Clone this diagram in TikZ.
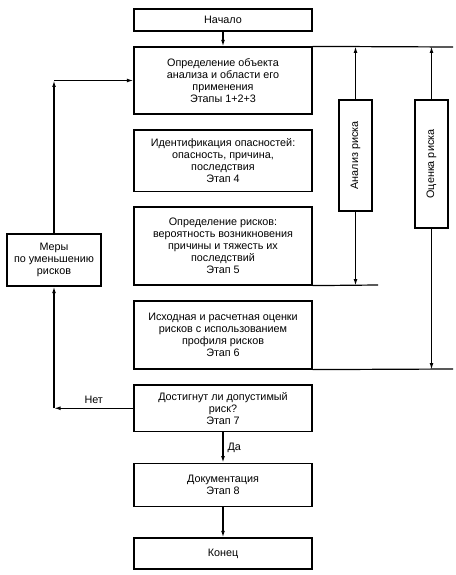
\documentclass[tikz,border=0pt]{standalone}
\usepackage{fontspec}
\setsansfont{Liberation Sans}
\usepackage{tikz}
\usetikzlibrary{positioning,arrows.meta,calc}

\begin{document}
\begin{tikzpicture}[
  x=1pt,
  y=-1pt,
  every node/.style={
    font=\sffamily\fontsize{10.8}{12}\selectfont,
    align=center,
    inner sep=1pt
  },
  stagebox/.style={
    draw,
    line width=1.2pt,
    minimum width=178pt
  },
  sidebox/.style={
    draw,
    line width=1.2pt,
    minimum width=33pt
  },
  link/.style={
    -{Latex[length=6.5pt,width=3.8pt]},
    line width=1.2pt
  },
  plain/.style={
    line width=1.2pt
  }
]

\useasboundingbox (0,0) rectangle (455,575);

\node[stagebox, minimum height=22pt] (start) at (223,20)
{Начало};

\node[stagebox, minimum height=67pt] (scope) at (223,80.5)
{Определение объекта\\анализа и области его\\применения\\Этапы 1+2+3};

\node[stagebox, minimum height=61.5pt] (hazard) at (223,160.75)
{Идентификация опасностей:\\опасность, причина,\\последствия\\Этап 4};

\node[stagebox, minimum height=78pt] (risk) at (223,246)
{Определение рисков:\\вероятность возникновения\\причины и тяжесть их\\последствий\\Этап 5};

\node[stagebox, minimum height=68pt] (estim) at (223,335)
{Исходная и расчетная оценки\\рисков с использованием\\профиля рисков\\Этап 6};

\node[stagebox, minimum height=46.5pt] (check) at (223,408.25)
{Достигнут ли допустимый\\риск?\\Этап 7};

\node[stagebox, minimum height=43.5pt] (docs) at (223,485)
{Документация\\Этап 8};

\node[stagebox, minimum height=31pt] (finish) at (223,553.5)
{Конец};

\node[draw, line width=1.2pt, minimum width=94pt, minimum height=52pt] (measures) at (54,260)
{Меры\\по уменьшению\\рисков};

\node[sidebox, minimum height=111pt] (analysis) at (355.5,155.5)
{\rotatebox{90}{Анализ риска}};

\node[sidebox, minimum height=128pt] (evaluation) at (431.5,164)
{\rotatebox{90}{Оценка риска}};

% boundary lines
\coordinate (topend) at (453,47);
\coordinate (midend) at (378,285);
\coordinate (lowend) at (453,369);

\draw[plain] (scope.north east) -- (topend);
\draw[plain] (risk.south east) -- (midend);
\draw[plain] (estim.south east) -- (lowend);

\foreach \n in {analysis,evaluation}{
  \draw[link] (\n.north) -- (\n.north |- scope.north);
}
\draw[link] (analysis.south) -- (analysis.south |- risk.south);
\draw[link] (evaluation.south) -- (evaluation.south |- estim.south);

% main flow
\draw[link] (start) -- (scope);
\draw[link] (check) -- node[right=3pt] {Да} (docs);
\draw[link] (docs) -- (finish);

% feedback loop
\coordinate (nocorner) at (measures.south |- check.west);
\coordinate (upcorner) at (measures.north |- scope.west);

\draw[link] (check.west) -- node[above=3pt] {Нет} (nocorner);
\draw[link] (nocorner) -- (measures.south);
\draw[link] (measures.north) -- (upcorner);
\draw[link] (upcorner) -- (scope.west);

\end{tikzpicture}
\end{document}
